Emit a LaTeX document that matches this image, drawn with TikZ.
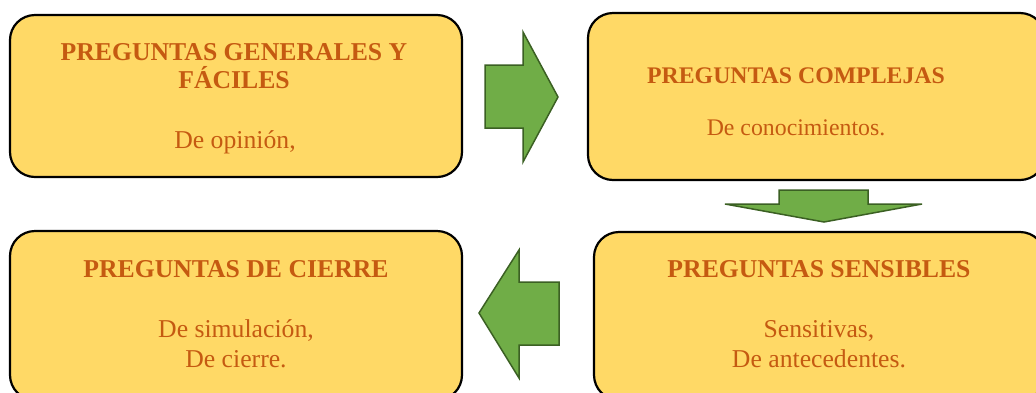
\documentclass[tikz,border=0pt]{standalone}
\usepackage{fontspec}
\setmainfont{Liberation Serif}
\definecolor{boxfill}{HTML}{FFD966}
\definecolor{txt}{HTML}{C55A11}
\definecolor{arrfill}{HTML}{70AD47}
\definecolor{arrdraw}{HTML}{3B6023}
\tikzset{
  qbox/.style={draw=black, line width=2.2pt, fill=boxfill, rounded corners=25pt, rectangle, inner sep=0pt},
  ttl/.style={anchor=base, inner sep=0pt, text=txt, font=\fontsize{25.7}{28}\selectfont\bfseries},
  bdy/.style={anchor=base, inner sep=0pt, text=txt, font=\fontsize{25.7}{28}\selectfont},
  ttlsmall/.style={anchor=base, inner sep=0pt, text=txt, font=\fontsize{23.8}{28}\selectfont\bfseries},
  bdysmall/.style={anchor=base, inner sep=0pt, text=txt, font=\fontsize{23.8}{28}\selectfont},
  garrow/.style={fill=arrfill, draw=arrdraw, line width=1.5pt, line join=miter}
}
\begin{document}
\begin{tikzpicture}[x=1pt,y=-1pt]
\useasboundingbox (0,0) rectangle (1036,392);
\clip (0,0) rectangle (1036,392);
% boxes
\node[qbox, minimum width=452pt, minimum height=162pt] (b1) at (236,96) {};
\node[qbox, minimum width=457pt, minimum height=167pt] (b2) at (816.5,96.5) {};
\node[qbox, minimum width=452pt, minimum height=169pt] (b3) at (236,315.5) {};
\node[qbox, minimum width=451pt, minimum height=168pt] (b4) at (819.5,316) {};
% texts
\node[ttl] (t1a) at (234,60) {PREGUNTAS GENERALES Y};
\node[ttl] (t1b) at (234,88) {FÁCILES};
\node[bdy] (d1) at (235,148) {De opinión,};
\node[ttlsmall] (t2) at (796,83) {PREGUNTAS COMPLEJAS};
\node[bdysmall] (d2) at (796,135) {De conocimientos.};
\node[ttl] (t3) at (236,277) {PREGUNTAS DE CIERRE};
\node[bdy] (d3a) at (236,337) {De simulación,};
\node[bdy] (d3b) at (236,367) {De cierre.};
\node[ttl] (t4) at (819,277) {PREGUNTAS SENSIBLES};
\node[bdy] (d4a) at (819,337) {Sensitivas,};
\node[bdy] (d4b) at (819,367) {De antecedentes.};
% arrows
\draw[garrow] (485,65) -- (523,65) -- (523,32) -- (558,97) -- (523,162) -- (523,128) -- (485,128) -- cycle;
\draw[garrow] (779,190) -- (868,190) -- (868,204) -- (922,204) -- (824,222) -- (725,204) -- (779,204) -- cycle;
\draw[garrow] (559,282) -- (519,282) -- (519,250) -- (479,313) -- (519,378) -- (519,345) -- (559,345) -- cycle;
\end{tikzpicture}
\end{document}
